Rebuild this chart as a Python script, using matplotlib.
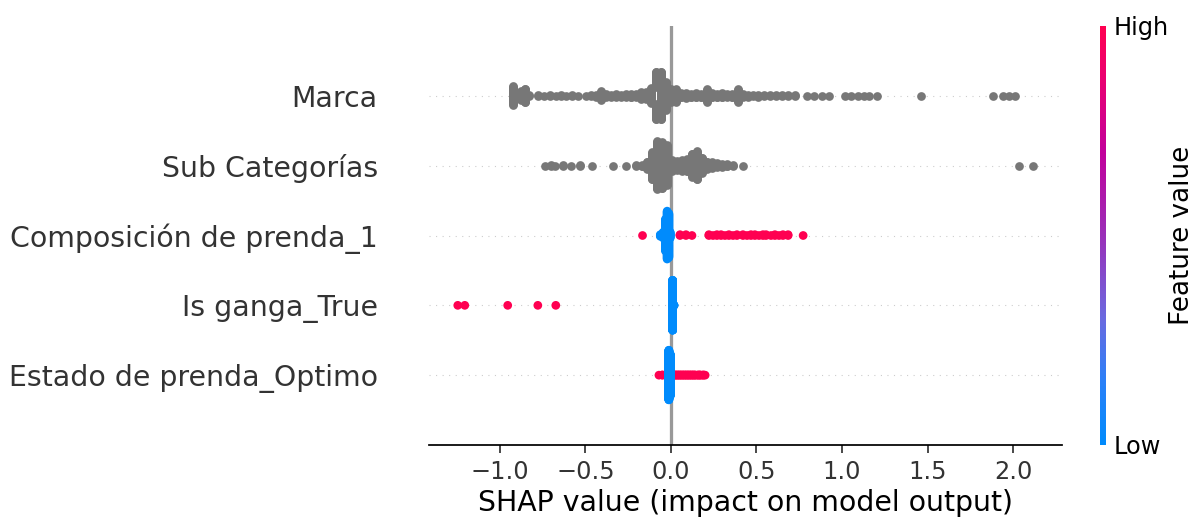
import numpy as np
import matplotlib.pyplot as plt
from matplotlib.colors import LinearSegmentedColormap
from matplotlib.cm import ScalarMappable

# feature names, top row first
features = ["Marca", "Sub Categorías", "Composición de prenda_1",
            "Is ganga_True", "Estado de prenda_Optimo"]

# shap values and how many rows share each value
marca_vals = [-0.925, -0.90, -0.878, -0.854, -0.83, -0.778, -0.743, -0.708, -0.673,
              -0.644, -0.614, -0.579, -0.544, -0.497, -0.468, -0.439, -0.41, -0.38,
              -0.351, -0.322, -0.293, -0.263, -0.234, -0.205, -0.176, -0.146, -0.117,
              -0.088, -0.059, -0.029, 0.0, 0.029, 0.059, 0.088, 0.117, 0.146, 0.176,
              0.211, 0.24, 0.269, 0.298, 0.328, 0.357, 0.392, 0.421, 0.45, 0.48,
              0.509, 0.544, 0.579, 0.614, 0.65, 0.685, 0.726, 0.796, 0.837, 0.884,
              0.925, 1.018, 1.053, 1.094, 1.129, 1.159, 1.205, 1.463, 1.884, 1.943,
              1.978, 2.013]
marca_counts = [24, 8, 12, 6, 2, 2, 1, 2, 1,
                2, 1, 2, 1, 1, 2, 3, 12, 4,
                3, 4, 3, 4, 5, 4, 6, 10, 20,
                40, 60, 35, 16, 16, 6, 7, 5, 6, 5,
                16, 6, 5, 6, 4, 5, 16, 4, 3, 2,
                3, 2, 2, 2, 2, 2, 2, 1, 1, 1,
                1, 1, 1, 1, 1, 1, 1, 1, 1, 1,
                1, 1]

sub_vals = [-0.737, -0.702, -0.679, -0.632, -0.585, -0.532, -0.462, -0.339, -0.263,
            -0.205, -0.17, -0.14, -0.111, -0.082, -0.053, -0.023, 0.006, 0.035,
            0.064, 0.094, 0.123, 0.152, 0.181, 0.211, 0.24, 0.269, 0.298, 0.328,
            0.363, 0.421, 2.036, 2.118]
sub_counts = [1, 2, 1, 2, 1, 2, 1, 1, 1,
              2, 3, 10, 35, 60, 58, 50, 14, 12,
              14, 16, 30, 36, 20, 10, 8, 6, 5, 4,
              2, 1, 1, 1]

# binary features: shap value, count, feature value (1 = high, 0 = low)
comp_vals = [-0.166, 0.053, 0.088, 0.123, 0.222, 0.246, 0.269, 0.293, 0.316, 0.339,
             0.363, 0.386, 0.421, 0.445, 0.468, 0.491, 0.515, 0.538, 0.556, 0.585,
             0.608, 0.632, 0.655, 0.685, 0.773,
             -0.062, -0.045, -0.032, -0.022, -0.012, -0.004]
comp_counts = [1, 2, 2, 1, 2, 1, 2, 2, 1, 2,
               1, 2, 2, 1, 2, 2, 1, 2, 2, 1,
               2, 1, 2, 2, 1,
               3, 8, 40, 60, 55, 8]
comp_high = [1] * 25 + [0] * 6

ganga_vals = [-1.246, -1.205, -0.954, -0.778, -0.673, 0.01, 0.018]
ganga_counts = [1, 1, 1, 1, 1, 400, 3]
ganga_high = [1, 1, 1, 1, 1, 0, 0]

estado_vals = [-0.07, -0.05, -0.004, 0.012, 0.02, 0.03, 0.04, 0.05, 0.06, 0.07, 0.08,
               0.09, 0.10, 0.11, 0.12, 0.13, 0.14, 0.15, 0.16, 0.17, 0.18, 0.19, 0.2,
               -0.012, -0.004]
estado_counts = [1, 2, 4, 2, 2, 2, 2, 2, 2, 2, 2,
                 2, 2, 2, 2, 2, 2, 1, 2, 2, 1, 2, 1,
                 220, 180]
estado_high = [1] * 23 + [0, 0]

rows = [
    (marca_vals, marca_counts, None),
    (sub_vals, sub_counts, None),
    (comp_vals, comp_counts, comp_high),
    (ganga_vals, ganga_counts, ganga_high),
    (estado_vals, estado_counts, estado_high),
]

# blue -> purple -> red like the shap colormap
red_blue = LinearSegmentedColormap.from_list("red_blue", [
    (0.0, "#008bfc"), (0.15, "#2a80f8"), (0.3, "#6a6ae0"), (0.5, "#9a2fb8"),
    (0.7, "#c2009b"), (0.88, "#eb0070"), (1.0, "#ff0051")])


def swarm(shaps, nbins=100, row_height=0.4):
    # stack points that fall in the same bin, alternating up and down
    quant = np.round(nbins * (shaps - shaps.min()) / (shaps.max() - shaps.min() + 1e-8))
    inds = np.argsort(quant, kind="stable")
    ys = np.zeros(len(shaps))
    layer, last_bin = 0, -1
    for ind in inds:
        if quant[ind] != last_bin:
            layer = 0
        ys[ind] = np.ceil(layer / 2) * ((layer % 2) * 2 - 1)
        layer += 1
        last_bin = quant[ind]
    ys *= 0.9 * (row_height / np.max(ys + 1))
    return ys


DPI = 157
fig = plt.figure(figsize=(1193 / DPI, 519 / DPI), dpi=DPI)
ax = fig.add_axes([429 / 1193, 74 / 519, 633 / 1193, 419 / 519])

n = len(features)
for i, (vals, counts, high) in enumerate(rows):
    pos = n - 1 - i
    ax.axhline(y=pos, color="#cccccc", lw=0.5, dashes=(1, 5), zorder=-1)
    shaps = np.repeat(np.array(vals, dtype=float), counts)
    ys = swarm(shaps)
    if high is None:
        ax.scatter(shaps, pos + ys, color="#777777", s=16, alpha=1,
                   linewidth=0, zorder=3, rasterized=True)
    else:
        fv = np.repeat(np.array(high, dtype=float), counts)
        ax.scatter(shaps, pos + ys, c=fv, cmap=red_blue, vmin=0, vmax=1,
                   s=16, alpha=1, linewidth=0, zorder=3, rasterized=True)

ax.axvline(x=0, color="#999999", zorder=-1)

ax.set_ylim(-1, n)
ax.set_yticks(range(n))
ax.set_yticklabels(features[::-1], fontsize=13)
ax.xaxis.set_ticks_position("bottom")
ax.yaxis.set_ticks_position("none")
ax.spines["right"].set_visible(False)
ax.spines["top"].set_visible(False)
ax.spines["left"].set_visible(False)
ax.tick_params(color="#333333", labelcolor="#333333")
ax.tick_params("y", length=20, width=0.5, which="major")
ax.tick_params("x", labelsize=11)
ax.set_xlabel("SHAP value (impact on model output)", fontsize=13, labelpad=2)

# colour bar for the feature value
cax = fig.add_axes([1100 / 1193, 74 / 519, 6 / 1193, 419 / 519])
sm = ScalarMappable(cmap=red_blue)
sm.set_array([0, 1])
cb = fig.colorbar(sm, cax=cax, ticks=[0, 1])
cb.set_ticklabels(["Low", "High"])
cb.set_label("Feature value", size=12, labelpad=0)
cb.ax.tick_params(labelsize=11, length=0)
cb.outline.set_visible(False)

fig.savefig("out.png", dpi=DPI)
